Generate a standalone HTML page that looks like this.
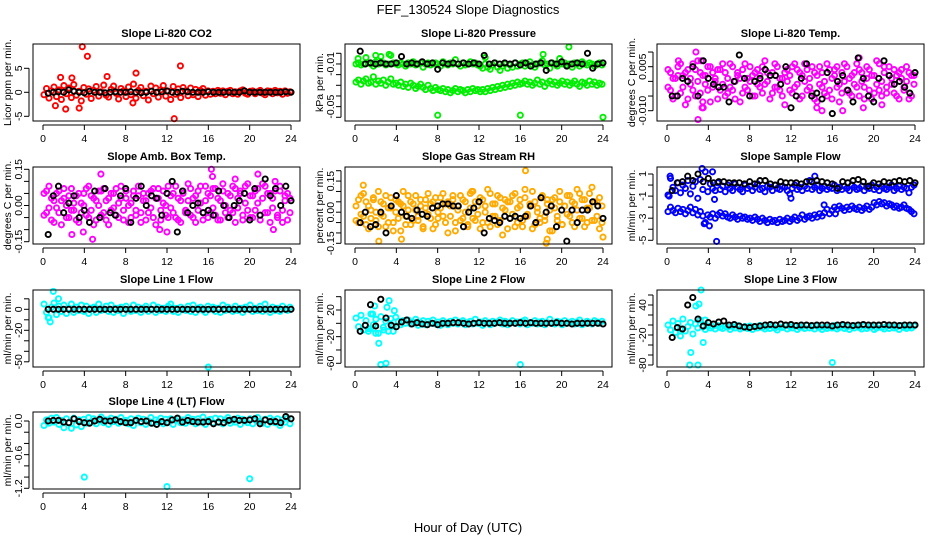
<!DOCTYPE html>
<html><head><meta charset="utf-8"><title>FEF_130524 Slope Diagnostics</title>
<style>
html,body{margin:0;padding:0;background:#fff;}
svg{display:block;font-family:"Liberation Sans",sans-serif;}
</style></head>
<body>
<svg id="chart" width="936" height="540" viewBox="0 0 936 540" xmlns="http://www.w3.org/2000/svg">
<rect x="0" y="0" width="936" height="540" fill="#fff"/>
<text x="468" y="14" font-size="13" text-anchor="middle">FEF_130524  Slope Diagnostics</text>
<text x="468" y="532" font-size="13" text-anchor="middle">Hour of Day (UTC)</text>
</svg>
<script>
const xTicks = [0,4,8,12,16,20,24];

const co2Main = [-0.5,0.8,-1.2,0.3,1.1,-0.9,0.5,-1.5,1.4,-0.3,0.9,-1.1,1.6,-0.6,0.2,-1.8,1.0,-0.4,0.7,-1.3,0.4,1.2,-0.8,0.1,1.5,-0.6,-1.0,0.6,1.3,-0.2,-1.4,0.8,0.3,-0.9,1.1,-0.5,1.7,-1.2,0.4,1.0,-0.7,0.2,-1.6,1.3,-0.3,0.9,-1.0,0.5,1.4,-0.8,0.2,-1.5,1.2,-0.4,0.7,-1.1,1.0,0.3,-0.7,0.9,-0.5,0.6,-0.9,0.4,0.8,-0.6,0.3,-0.4,0.2,-0.3,0.4,-0.2,0.3,-0.5,0.2,0.4,-0.3,0.1,-0.4,0.3,0.5,-0.2,-0.4,0.2,0.3,-0.3,0.1,0.4,-0.2,-0.5,0.3,0.2,-0.3,0.4,-0.1,0.2,-0.4,0.3,-0.2,0.1];
const co2OutH = [3.8,4.3,13.3,9.0,6.2,2.8,12.7,2.2,3.5,1.2,1.7,8.7];
const co2OutV = [9.5,7.5,5.5,4.0,3.3,3.0,-5.5,-3.5,-3.3,-2.8,3.1,-2.2];
const co2Black = [-0.2,0,0.1,0,0.5,0.2,0,-0.1,0.2,0,0,-0.1,0,0.1,0,0,0.1,0,-0.1,0,0.2,0,0.1,0.3,0,0,0.2,0.1,0,0,0,0.1,0,0,0,0,0,0,0.3,0,0,0,0,0,0,0,0.1,0];

const pressUpper = [-0.010,-0.009,-0.011,-0.010,-0.004,-0.009,-0.010,-0.012,-0.008,-0.010,-0.003,-0.009,-0.011,-0.010,-0.002,-0.009,-0.010,-0.011,-0.009,-0.010,-0.012,-0.009,-0.010,-0.008,-0.011,-0.010,-0.009,-0.013,-0.010,-0.009,-0.011,-0.010,-0.009,-0.010,-0.012,-0.008,-0.010,-0.011,-0.009,-0.010,-0.006,-0.010,-0.012,-0.009,-0.011,-0.010,-0.008,-0.010,-0.009,-0.011,-0.012,-0.014,-0.010,-0.013,-0.015,-0.011,-0.009,-0.013,-0.016,-0.012,-0.010,-0.014,-0.011,-0.013,-0.009,-0.012,-0.010,-0.009,-0.012,-0.010,-0.008,-0.011,-0.013,-0.010,-0.009,-0.007,-0.011,-0.010,-0.014,-0.009,-0.010,-0.012,-0.005,-0.010,-0.009,-0.011,-0.010,-0.013,-0.009,-0.010,-0.012,-0.008,-0.010,-0.011,-0.009,-0.010,-0.012,-0.010,-0.009,-0.011];
const pressLower = [-0.027,-0.025,-0.029,-0.026,-0.024,-0.028,-0.027,-0.022,-0.029,-0.026,-0.028,-0.025,-0.030,-0.027,-0.024,-0.029,-0.028,-0.030,-0.027,-0.031,-0.029,-0.032,-0.028,-0.030,-0.033,-0.031,-0.029,-0.032,-0.034,-0.030,-0.033,-0.035,-0.032,-0.034,-0.035,-0.033,-0.036,-0.034,-0.037,-0.035,-0.033,-0.036,-0.034,-0.035,-0.037,-0.034,-0.036,-0.033,-0.035,-0.034,-0.036,-0.034,-0.036,-0.033,-0.035,-0.032,-0.034,-0.031,-0.033,-0.030,-0.032,-0.029,-0.031,-0.028,-0.030,-0.027,-0.029,-0.028,-0.026,-0.029,-0.027,-0.030,-0.028,-0.025,-0.029,-0.027,-0.031,-0.028,-0.026,-0.029,-0.027,-0.030,-0.028,-0.026,-0.029,-0.027,-0.030,-0.028,-0.026,-0.029,-0.031,-0.027,-0.028,-0.030,-0.026,-0.029,-0.027,-0.030,-0.028,-0.029];
const pressOutH = [0.3,2.0,3.3,8.0,16.0,20.7,24.0,12.6,18.2];
const pressOutV = [-0.005,-0.002,-0.001,-0.058,-0.058,0.006,-0.060,-0.004,-0.001];
const pressBlack = [0.002,-0.010,-0.009,-0.010,-0.009,-0.010,-0.010,-0.009,-0.003,-0.010,-0.009,-0.010,-0.008,-0.010,-0.009,-0.015,-0.009,-0.010,-0.009,-0.010,-0.009,-0.010,-0.009,-0.010,-0.002,-0.010,-0.009,-0.010,-0.009,-0.010,-0.009,-0.011,-0.009,-0.012,-0.010,-0.009,-0.016,-0.009,-0.010,-0.008,-0.012,-0.010,-0.009,-0.010,0.000,-0.014,-0.010,-0.009];

const tempA = [-0.002,0.003,-0.006,0.001,0.005,-0.004,0.002,-0.008,0.004,-0.001,0.006,-0.005,0.000,0.003,-0.007,0.002,-0.003,0.005,-0.002,0.001,-0.006,0.004,-0.001,0.003,-0.004,0.006,-0.003,0.000,0.002,-0.007,0.004,-0.002,0.001,0.005,-0.005,0.003,-0.001,0.002,-0.004,0.007,0.000,-0.006,0.003,-0.002,0.005,-0.003,0.001,-0.008,0.004,0.002,-0.004,0.006,-0.001,0.003,-0.005,0.000,0.004,-0.002,0.005,-0.006,0.002,-0.001,0.003,-0.004,0.006,-0.003,0.001,0.004,-0.002,-0.007,0.003,0.000,0.005,-0.004,0.002,-0.001,0.006,-0.005,0.003,-0.002,0.001,0.004,-0.006,0.002,0.007,-0.003,0.000,0.005,-0.004,0.002,-0.001,0.004,-0.005,0.003,0.001,-0.002,0.005,-0.006,0.002,-0.001];
const tempB = [0.004,-0.003,0.001,-0.005,0.002,0.006,-0.002,0.003,-0.006,0.001,-0.003,0.004,0.007,-0.004,0.002,-0.001,0.005,-0.007,0.003,0.000,0.004,-0.003,0.006,-0.005,0.001,-0.002,0.005,-0.006,0.003,0.001,-0.004,0.006,-0.003,0.000,0.002,-0.005,0.004,-0.002,0.005,-0.001,0.003,0.002,-0.004,0.006,-0.002,0.001,-0.005,0.003,0.000,-0.003,0.005,-0.002,0.004,-0.006,0.002,0.006,-0.003,0.001,-0.004,0.003,-0.007,0.005,-0.002,0.000,-0.005,0.004,-0.006,0.002,0.005,-0.001,-0.004,0.006,-0.003,0.001,-0.005,0.003,-0.002,0.004,0.000,-0.006,0.005,-0.003,0.002,-0.004,-0.001,0.006,-0.005,0.003,-0.002,0.005,0.001,-0.004,0.002,-0.006,0.004,-0.003,0.000,0.003,-0.005,0.002];
const tempOutH = [1.1,2.8,3.0,3.5,14.5,15.0,17.0,18.6,19.0,20.8,3.4,3.3];
const tempOutV = [0.007,0.010,-0.013,-0.009,-0.009,-0.010,-0.010,0.008,-0.009,-0.008,-0.009,0.007];
const tempBlack = [-0.005,-0.005,0.001,0.000,0.005,-0.005,0.007,0.001,-0.001,-0.002,-0.002,-0.007,0.000,0.009,0.001,-0.005,0.000,0.001,0.004,0.002,0.002,-0.001,0.005,-0.009,-0.005,0.001,0.006,-0.005,-0.004,-0.006,0.003,-0.011,0.000,0.002,-0.003,-0.007,0.008,0.001,-0.005,-0.007,0.001,0.007,0.002,-0.001,0.000,-0.002,-0.004,0.003];

const ambA = [0.05,-0.03,0.08,-0.06,0.02,-0.01,0.06,-0.08,0.03,0.00,-0.05,0.07,-0.02,0.04,-0.07,0.01,0.05,-0.04,0.08,-0.02,0.03,-0.06,0.00,0.06,-0.03,0.02,-0.08,0.05,-0.01,0.07,-0.05,0.03,-0.02,0.06,-0.07,0.01,0.04,-0.04,0.08,-0.03,0.02,-0.06,0.05,-0.01,0.07,-0.08,0.03,-0.02,0.06,0.00,-0.05,0.04,-0.03,0.08,-0.06,0.02,0.05,-0.02,0.09,-0.04,0.03,-0.07,0.06,0.01,-0.03,0.08,-0.05,0.04,-0.01,0.07,-0.06,0.02,0.09,-0.03,0.05,-0.02,0.08,-0.07,0.03,0.06,-0.04,0.01,0.09,-0.05,0.04,-0.02,0.07,-0.06,0.03,0.08,-0.03,0.05,-0.01,0.10,-0.04,0.06,-0.07,0.02,0.05,-0.03];
const ambB = [-0.04,0.06,-0.01,0.03,-0.07,0.05,-0.03,0.02,0.07,-0.05,0.04,-0.02,0.01,-0.06,0.05,-0.03,0.00,0.07,-0.05,0.04,-0.08,0.02,0.06,-0.04,0.07,-0.06,0.03,-0.02,0.05,-0.04,0.01,0.08,-0.06,0.03,0.00,-0.05,0.06,-0.02,0.04,-0.07,0.05,0.02,-0.03,0.06,-0.05,0.03,0.07,-0.06,0.01,-0.04,0.08,-0.01,0.05,-0.05,0.03,-0.07,0.06,-0.03,0.02,0.07,-0.05,0.04,-0.02,0.08,-0.06,0.02,0.05,-0.03,0.07,-0.04,0.03,-0.06,0.06,0.00,-0.05,0.04,-0.03,0.07,-0.01,0.05,-0.06,0.08,-0.02,0.04,-0.05,0.06,0.01,-0.04,0.09,-0.03,0.05,-0.07,0.03,0.06,-0.05,0.08,-0.02,0.04,-0.06,0.03];
const ambOutH = [2.8,4.8,5.6,11.3,16.3,16.4,20.8,22.3,3.9,12.0,18.6];
const ambOutV = [-0.12,-0.14,0.13,-0.10,0.15,0.12,0.13,-0.10,-0.11,-0.11,0.11];
const ambBlack = [-0.12,0.04,0.08,-0.03,0.01,0.04,-0.05,-0.02,-0.07,0.06,-0.05,0.07,-0.03,-0.04,0.04,0.07,-0.07,0.03,0.08,0.00,0.04,0.03,-0.04,0.05,0.10,-0.11,0.06,-0.03,0.00,0.01,-0.03,-0.02,-0.04,0.06,0.00,-0.05,0.00,0.02,0.05,-0.06,0.07,-0.04,0.11,0.04,0.07,0.00,0.08,0.02];

const rhA = [0.03,-0.05,0.08,-0.02,0.05,-0.08,0.01,0.06,-0.04,0.10,-0.01,0.04,-0.07,0.02,0.07,-0.05,0.00,0.05,-0.09,0.03,-0.02,0.08,-0.06,0.04,0.01,-0.04,0.06,-0.08,0.02,0.09,-0.03,0.05,-0.06,0.00,0.07,-0.02,0.04,-0.10,0.03,0.06,-0.05,0.01,0.08,-0.03,0.05,-0.07,0.02,0.10,-0.04,0.03,-0.08,0.06,0.00,-0.05,0.09,-0.02,0.04,-0.06,0.07,-0.11,0.01,0.05,-0.03,0.08,-0.07,0.02,0.06,-0.04,0.11,-0.01,0.03,-0.08,0.05,0.00,-0.05,0.07,-0.02,0.04,-0.09,0.06,0.02,-0.04,0.10,-0.06,0.03,0.08,-0.02,0.05,-0.07,0.01,0.09,-0.03,0.06,-0.05,0.02,0.12,-0.04,0.05,-0.08,0.03];
const rhB = [-0.04,0.06,-0.01,0.09,-0.06,0.03,-0.03,0.07,0.00,-0.07,0.05,-0.02,0.08,-0.05,0.02,-0.09,0.06,-0.03,0.04,0.10,-0.06,0.01,0.05,-0.04,0.08,-0.02,0.03,-0.07,0.06,-0.01,0.04,-0.08,0.07,-0.03,0.02,0.09,-0.05,0.05,-0.02,0.08,-0.09,0.03,-0.04,0.06,0.00,-0.06,0.09,-0.03,0.05,-0.01,0.07,-0.05,0.03,0.11,-0.07,0.04,-0.02,0.08,-0.04,0.02,0.06,-0.08,0.05,-0.01,0.09,-0.05,0.03,-0.07,0.07,-0.02,0.04,0.10,-0.06,0.02,-0.03,0.08,-0.04,0.06,0.01,-0.09,0.07,-0.02,0.05,-0.06,0.03,-0.01,0.08,-0.05,0.04,0.11,-0.03,0.06,-0.07,0.02,0.09,-0.04,0.05,-0.02,0.07,-0.05];
const rhOutH = [0.8,16.5,18.5,18.6,24.0,2.3,11.3,4.5];
const rhOutV = [0.13,0.20,-0.15,-0.13,-0.12,-0.14,0.10,-0.13];
const rhBlack = [-0.05,0.00,-0.07,-0.06,0.00,-0.10,0.03,0.08,0.00,-0.02,-0.03,0.01,-0.01,-0.02,0.02,0.03,0.04,0.04,0.03,0.03,-0.07,0.00,0.02,0.05,-0.10,-0.03,-0.04,-0.05,-0.02,-0.03,-0.02,-0.03,-0.02,0.03,-0.05,0.07,0.00,0.03,-0.07,0.01,-0.14,0.01,-0.05,0.01,0.01,0.05,0.03,-0.03];

const flowUpper = [-0.9,0.6,-0.2,-0.5,0.2,-0.7,0.0,-0.3,0.4,-0.8,-0.1,0.3,-1.2,0.5,-0.4,1.2,-0.6,0.1,-0.3,-0.5,0.2,-0.4,-0.1,-0.6,0.0,-0.3,-0.5,0.1,-0.2,-0.4,-0.6,0.0,-0.3,-0.1,-0.5,-0.2,0.1,-0.4,-0.3,-0.6,-0.1,-0.2,-0.5,0.0,-0.3,-0.4,-0.1,-0.2,-0.5,-0.8,-0.3,0.0,-0.4,-0.2,-0.5,-0.1,-0.3,0.4,-0.4,-0.2,0.0,-0.5,-0.3,-0.1,-0.4,-0.2,-0.3,0.0,-0.5,-0.2,-0.4,-0.1,-0.3,-0.5,0.0,-0.2,-0.4,-0.3,-0.1,-0.5,-0.2,-0.3,0.0,-0.4,-0.2,-0.5,-0.1,-0.3,-0.4,-0.2,0.0,-0.5,-0.3,-0.1,-0.4,-0.2,-0.3,-0.7,-0.2,0.0];
const flowLower = [-2.4,-2.0,-2.3,-2.5,-2.1,-2.4,-2.2,-2.6,-2.3,-2.0,-2.5,-2.2,-2.7,-2.4,-2.8,-3.4,-2.7,-2.9,-2.6,-3.0,-2.7,-2.5,-2.8,-2.6,-2.9,-3.0,-2.7,-2.9,-3.1,-2.8,-3.0,-2.9,-3.1,-3.0,-3.2,-2.9,-3.1,-3.3,-3.0,-3.2,-3.4,-3.1,-3.3,-3.2,-3.4,-3.1,-3.3,-3.2,-3.0,-3.3,-3.1,-2.9,-3.2,-3.0,-2.7,-3.1,-2.9,-2.8,-3.0,-2.7,-2.9,-2.6,-2.8,-2.5,-2.2,-2.6,-2.3,-2.0,-2.2,-1.9,-2.1,-2.3,-2.0,-2.2,-1.9,-2.1,-2.2,-2.0,-2.3,-2.1,-1.9,-2.2,-2.0,-1.6,-1.8,-1.5,-1.7,-1.6,-1.9,-1.7,-1.8,-2.0,-1.9,-2.1,-2.0,-1.8,-2.1,-2.2,-2.4,-2.6];
const flowOutH = [0.3,3.4,3.6,4.4,4.8,4.6,12.0,14.3,15.2,16.3,4.1,0.2];
const flowOutV = [0.8,1.5,-3.5,1.2,-5.1,-1.3,-1.2,0.8,-1.8,-2.6,-3.7,-1.0];
const flowBlack = [-0.5,0.2,0.3,0.8,0.4,1.0,0.3,0.6,0.2,0.3,0.3,0.2,0.2,0.2,0.1,0.3,0.1,0.4,0.4,0.1,0.0,0.3,0.2,0.2,0.2,0.1,0.3,0.3,0.4,0.3,0.2,0.1,-0.3,0.3,0.2,0.4,0.5,0.3,-0.1,0.2,0.1,0.3,0.2,0.3,0.4,0.3,0.4,0.2];

const line1Main = [5,-3,-8,2,6,-5,3,-2,4,-4,1,5,-3,2,-1,4,-2,3,-4,1,2,-3,5,-1,0,3,-2,4,-3,1,-1,2,-4,3,0,-2,4,-1,2,-3,1,3,-2,0,4,-3,2,-1,1,-2,3,5,-2,1,-3,2,0,-1,3,-2,4,-3,1,2,-1,-3,3,0,2,-2,1,-3,4,-1,2,0,-2,3,-1,1,-3,2,0,4,-2,1,-1,3,-2,5,0,-3,2,-1,1,-2,3,0,-1,2];
const line1OutH = [1.0,0.7,1.5,0.5,16.0];
const line1OutV = [17,-12,10,-8,-55];
const line1Black = [0,0,0,0,0,0,0,0,0,0,0,0,0,0,0,0,0,0,0,0,0,0,0,0,0,0,0,0,0,0,0,0,0,0,0,0,0,0,0,0,0,0,0,0,0,0,0,0];

const line2Main = [8,-5,12,-10,4,-8,14,-2,6,-15,10,-6,3,-12,7,-4,9,3,-2,4,0,5,-1,2,6,-3,1,4,-2,3,0,5,-1,2,-3,4,1,-2,3,0,5,-1,2,4,-2,1,3,-1,6,0,2,-3,4,1,-2,3,0,2,5,-1,3,-2,1,4,0,2,-1,3,5,-2,1,0,4,-1,2,3,-2,1,6,0,-1,3,2,-2,4,0,1,3,-1,2,5,-2,0,3,1,-1,4,2,0,3];
const line2OutH = [1.9,3.3,3.1,3.8,1.5,1.3,2.0,2.3,2.5,3.0,16.0,3.7,2.8,1.7];
const line2OutV = [26,34,24,19,-8,-12,-15,-30,-62,-60,-62,-12,-10,14];
const line2Black = [-12,-3,28,-4,36,8,-3,-5,2,5,-1,1,-1,-2,0,-2,0,0,1,1,0,-1,0,1,0,0,0,1,0,0,0,1,0,1,0,0,0,0,1,0,0,-1,0,0,0,0,0,-1];

const line3Main = [0,-10,8,-15,3,-8,12,-12,-3,5,-18,2,-6,10,-4,-9,-2,-6,-3,-8,-1,-5,-7,-2,-4,-9,-3,-6,-1,-8,-5,-3,-7,-2,-9,-4,-6,-1,-5,-8,-3,-7,-2,-6,-10,-4,-5,-1,-8,-3,-6,-2,-9,-5,-4,-7,-1,-6,-3,-8,-2,-5,-9,-4,-7,-3,-6,-1,-8,-5,-2,-7,-4,-9,-3,-6,-1,-5,-8,-2,-7,-4,-3,-9,-6,-1,-5,-8,-3,-7,-2,-6,-4,-9,-1,-5,-7,-3,-6,-2];
const line3OutH = [3.3,3.1,2.8,2.3,3.0,3.5,3.7,16.0,2.2,1.3];
const line3OutV = [70,42,38,-55,-80,-35,10,-75,-80,-22];
const line3Black = [-25,-5,-8,40,55,12,-2,5,2,6,8,0,1,-2,-4,-5,-3,-2,0,1,0,2,0,1,-1,0,0,-1,0,0,0,-2,0,1,0,-1,0,1,0,0,0,1,0,0,-1,0,0,0];

const line4Main = [-0.08,0.02,-0.04,0.05,-0.02,0.06,-0.06,0.01,-0.12,0.04,-0.03,-0.13,0.05,-0.07,0.02,-0.10,0.03,-0.04,0.06,-0.02,0.04,-0.05,0.01,0.07,-0.03,0.02,-0.06,0.05,-0.01,0.03,-0.04,0.06,-0.02,0.01,-0.05,0.04,-0.08,0.02,0.05,-0.03,0.03,-0.06,0.00,0.06,-0.04,0.02,-0.01,0.05,-0.05,0.03,-0.02,0.04,-0.06,0.01,0.05,-0.03,0.02,-0.04,0.06,-0.01,0.03,-0.05,0.04,-0.02,0.07,-0.06,0.01,0.03,-0.03,0.05,-0.02,0.04,-0.05,0.02,0.06,-0.04,0.01,-0.02,0.05,-0.06,0.03,0.00,-0.03,0.04,-0.05,0.02,0.06,-0.01,-0.04,0.03,-0.06,0.05,0.01,-0.03,0.04,-0.08,0.02,-0.02,0.05,-0.05];
const line4OutH = [4.0,12.0,20.0];
const line4OutV = [-1.0,-1.17,-1.03];
const line4Black = [0.00,0.01,0.01,-0.02,-0.03,0.04,-0.01,-0.03,-0.04,0.00,0.03,0.00,0.00,0.02,-0.01,-0.03,-0.03,0.01,-0.01,0.00,-0.04,-0.06,-0.01,-0.03,0.02,0.05,-0.02,0.01,-0.01,-0.02,-0.02,-0.01,-0.05,-0.02,-0.03,0.01,0.03,0.01,0.01,0.02,0.04,-0.05,0.02,-0.01,-0.01,-0.03,0.08,0.04];

const NS = "http://www.w3.org/2000/svg";
const svg = document.getElementById("chart");
const COLS = [33,345,657], ROWS = [44,167,290,412], PW = 267, PH = 77;

const panels = [
 {key:"co2",title:"Slope Li-820 CO2",ytitle:"Licor ppm per min.",c:0,r:0,v1:5,p1:68.3,v2:-5,p2:116.3,ticks:[5,0,-5],labels:["5","0","-5"],labelVals:[5,0,-5],color:"#ff0000",main:[co2Main],oh:co2OutH,ov:co2OutV,black:co2Black},
 {key:"pressure",title:"Slope Li-820 Pressure",ytitle:"kPa per min.",c:1,r:0,v1:0,p1:53.3,v2:-0.06,p2:117.3,ticks:[0,-0.01,-0.02,-0.03,-0.04,-0.05,-0.06],labels:["-0.01","-0.05"],labelVals:[-0.01,-0.05],color:"#00ee00",main:[pressUpper,pressLower],oh:pressOutH,ov:pressOutV,black:pressBlack},
 {key:"li820-temp",title:"Slope Li-820 Temp.",ytitle:"degrees C per min.",c:2,r:0,v1:0.005,p1:66.7,v2:-0.010,p2:110.7,ticks:[0.010,0.005,0,-0.005,-0.010],labels:["0.005","-0.010"],labelVals:[0.005,-0.010],color:"#ff00ff",main:[tempA,tempB],oh:tempOutH,ov:tempOutV,black:tempBlack},
 {key:"amb-box-temp",title:"Slope Amb. Box Temp.",ytitle:"degrees C per min.",c:0,r:1,v1:0.15,p1:169.3,v2:-0.15,p2:241.7,ticks:[0.15,0.10,0.05,0,-0.05,-0.10,-0.15],labels:["0.15","0.00","-0.15"],labelVals:[0.15,0,-0.15],color:"#ff00ff",main:[ambA,ambB],oh:ambOutH,ov:ambOutV,black:ambBlack},
 {key:"gas-stream-rh",title:"Slope Gas Stream RH",ytitle:"percent per min.",c:1,r:1,v1:0.20,p1:170.7,v2:-0.15,p2:243.3,ticks:[0.20,0.15,0.10,0.05,0,-0.05,-0.10,-0.15],labels:["0.15","0.00","-0.15"],labelVals:[0.15,0,-0.15],color:"#ffaa00",main:[rhA,rhB],oh:rhOutH,ov:rhOutV,black:rhBlack},
 {key:"sample-flow",title:"Slope Sample Flow",ytitle:"ml/min per min.",c:2,r:1,v1:1,p1:174,v2:-5,p2:240.3,ticks:[1,0,-1,-2,-3,-4,-5],labels:["1","-1","-3","-5"],labelVals:[1,-1,-3,-5],color:"#0000ff",main:[flowUpper,flowLower],oh:flowOutH,ov:flowOutV,black:flowBlack},
 {key:"line1-flow",title:"Slope Line 1 Flow",ytitle:"ml/min per min.",c:0,r:2,v1:0,p1:309.3,v2:-50,p2:361.8,ticks:[10,0,-10,-20,-30,-40,-50],labels:["0","-20","-50"],labelVals:[0,-20,-50],color:"#00ffff",main:[line1Main],oh:line1OutH,ov:line1OutV,black:line1Black},
 {key:"line2-flow",title:"Slope Line 2 Flow",ytitle:"ml/min per min.",c:1,r:2,v1:20,p1:310,v2:-60,p2:363.3,ticks:[40,20,0,-20,-40,-60],labels:["20","-20","-60"],labelVals:[20,-20,-60],color:"#00ffff",main:[line2Main],oh:line2OutH,ov:line2OutV,black:line2Black},
 {key:"line3-flow",title:"Slope Line 3 Flow",ytitle:"ml/min per min.",c:2,r:2,v1:40,p1:305,v2:-80,p2:365,ticks:[60,40,20,0,-20,-40,-60,-80],labels:["40","-20","-80"],labelVals:[40,-20,-80],color:"#00ffff",main:[line3Main],oh:line3OutH,ov:line3OutV,black:line3Black},
 {key:"line4-flow",title:"Slope Line 4 (LT) Flow",ytitle:"ml/min per min.",c:0,r:3,v1:0,p1:421,v2:-1.2,p2:488.3,ticks:[0,-0.2,-0.4,-0.6,-0.8,-1.0,-1.2],labels:["0.0","-0.6","-1.2"],labelVals:[0,-0.6,-1.2],color:"#00ffff",main:[line4Main],oh:line4OutH,ov:line4OutV,black:line4Black}
];

function mk(tag, attrs, parent){
  const e = document.createElementNS(NS, tag);
  for (const k in attrs) e.setAttribute(k, attrs[k]);
  parent.appendChild(e);
  return e;
}

panels.forEach(p => {
  const L = COLS[p.c], T = ROWS[p.r];
  const xS = h => L + 10 + h * 248 / 24;
  const yS = v => p.p1 + (v - p.v1) * (p.p2 - p.p1) / (p.v2 - p.v1);
  const g = mk("g", {}, svg);
  
  

  const title = mk("text", {x: L + PW/2, y: T - 7, "font-size": 11, "font-weight": "bold", "text-anchor": "middle"}, g);
  title.textContent = p.title;
  
  

  const yt = mk("text", {x: 0, y: 0, "font-size": 10.5, "text-anchor": "middle", transform: `translate(${L-22},${T+PH/2}) rotate(-90)`}, g);
  yt.textContent = p.ytitle;
  
  

  const pts = mk("g", {fill: "none", "stroke-width": 1.9}, g);
  
  
  p.main.forEach(arr => {
    const n = arr.length;
    arr.forEach((v, i) => {
      const h = 0.1 + i * 23.8 / (n - 1);
      const c = mk("circle", {cx: xS(h).toFixed(1), cy: yS(v).toFixed(1), r: 2.6, stroke: p.color}, pts);
      
      
    });
  });
  p.oh.forEach((h, i) => {
    const c = mk("circle", {cx: xS(h).toFixed(1), cy: yS(p.ov[i]).toFixed(1), r: 2.6, stroke: p.color}, pts);
    
    
  });
  const nb = p.black.length;
  p.black.forEach((v, j) => {
    const h = 0.5 + j * 23.5 / (nb - 1);
    const c = mk("circle", {cx: xS(h).toFixed(1), cy: yS(v).toFixed(1), r: 2.6, stroke: "#000"}, pts);
    
    
  });

  const box = mk("rect", {x: L, y: T, width: PW, height: PH, fill: "none", stroke: "#000", "stroke-width": 1}, g);
  
  

  const xa = mk("g", {}, g);
  
  
  mk("line", {x1: xS(0), x2: xS(24), y1: T+PH+4, y2: T+PH+4, stroke: "#000"}, xa);
  xTicks.forEach(t => {
    mk("line", {x1: xS(t), x2: xS(t), y1: T+PH+4, y2: T+PH+9, stroke: "#000"}, xa);
    const tl = mk("text", {x: xS(t), y: T+PH+21, "font-size": 10.5, "text-anchor": "middle"}, xa);
    tl.textContent = t;
    
    
  });

  const ya = mk("g", {}, g);
  
  
  const tk = p.ticks.map(yS);
  mk("line", {x1: L-4, x2: L-4, y1: Math.min(...tk), y2: Math.max(...tk), stroke: "#000"}, ya);
  p.ticks.forEach(t => {
    mk("line", {x1: L-9, x2: L-4, y1: yS(t), y2: yS(t), stroke: "#000"}, ya);
  });
  p.labels.forEach((s, i) => {
    const yy = yS(p.labelVals[i]);
    const tl = mk("text", {x: 0, y: 0, "font-size": 10.5, "text-anchor": "middle", transform: `translate(${L-11},${yy}) rotate(-90)`}, ya);
    tl.textContent = s;
    
    
  });
});
</script>
</body></html>
